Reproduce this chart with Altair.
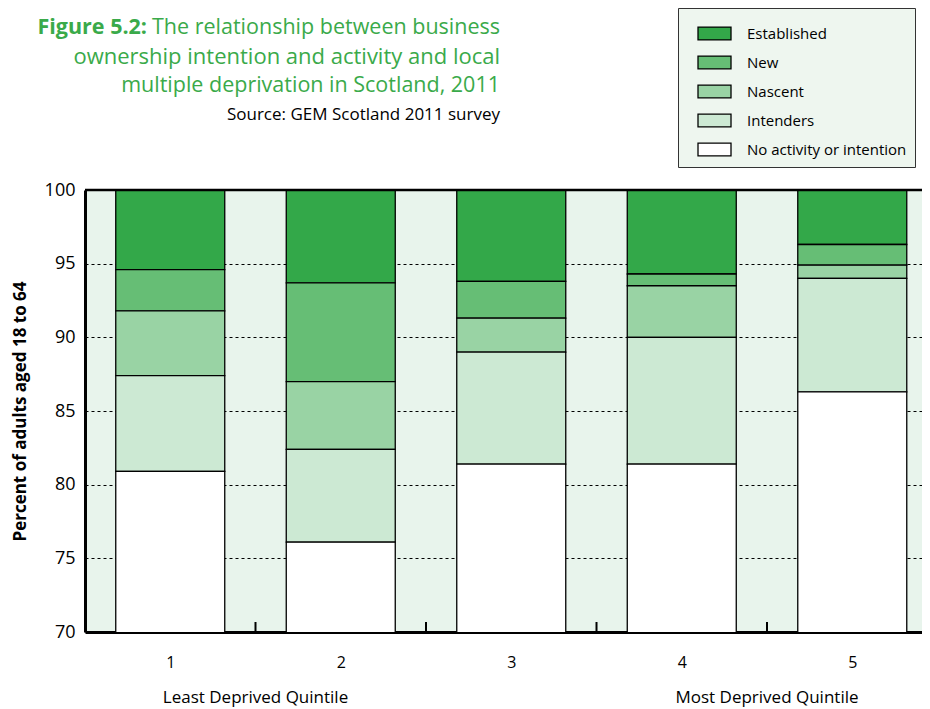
import altair as alt
import pandas as pd

# ---- data ----
quintiles = [1, 2, 3, 4, 5]
categories = ["Established", "New", "Nascent", "Intenders", "No activity or intention"]
established = [5.4, 6.3, 6.2, 5.7, 3.7]
new = [2.8, 6.7, 2.5, 0.8, 1.4]
nascent = [4.4, 4.6, 2.3, 3.5, 0.9]
intenders = [6.5, 6.3, 7.6, 8.6, 7.7]
no_activity = [80.9, 76.1, 81.4, 81.4, 86.3]
colors = ["#33A849", "#66BE75", "#99D3A4", "#CCE9D3", "#FFFFFF"]
y_ticks = [70, 75, 80, 85, 90, 95, 100]
divider_pos = [1.5, 2.5, 3.5, 4.5]
end_labels = ["Least Deprived Quintile", "Most Deprived Quintile"]
end_label_pos = [1.5, 4.5]
title_bold = "Figure 5.2:"
title_lines = ["The relationship between business",
               "ownership intention and activity and local",
               "multiple deprivation in Scotland, 2011"]
source_text = "Source: GEM Scotland 2011 survey"

FONT = "Open Sans"
GREEN = "#3AAA4A"
BG = "#E8F4EC"
W, H = 837, 442

series = [established, new, nascent, intenders, no_activity]
rows = []
for ci, (cat, vals) in enumerate(zip(categories, series)):
    for q, v in zip(quintiles, vals):
        rows.append({"quintile": q, "category": cat, "value": v,
                     "stack_order": len(categories) - 1 - ci})
df = pd.DataFrame(rows)

xscale = alt.Scale(domain=[0.5, 5.409], nice=False, zero=False, padding=0)
yscale = alt.Scale(domain=[70, 100], nice=False, zero=False, padding=0)

bars = alt.Chart(df).mark_bar(size=109, stroke="black", strokeWidth=1.3, clip=True).encode(
    x=alt.X("quintile:Q", scale=xscale,
            axis=alt.Axis(values=quintiles, ticks=False, grid=False, domainWidth=3,
                          domainColor="black", labelFont=FONT, labelFontSize=16,
                          labelColor="black", labelPadding=22, format="d", title=None)),
    y=alt.Y("value:Q", stack="zero", scale=yscale,
            axis=alt.Axis(values=y_ticks, ticks=False, grid=True, gridDash=[3, 3],
                          gridColor="black", gridWidth=1, domainWidth=3, domainColor="black",
                          labelFont=FONT, labelFontSize=18, labelColor="black",
                          labelPadding=10, title="Percent of adults aged 18 to 64",
                          titleFont=FONT, titleFontSize=17, titleFontWeight="bold",
                          titleColor="black", titleX=-65, titleY=221,
                          titleBaseline="middle")),
    color=alt.Color("category:N", scale=alt.Scale(domain=categories, range=colors),
                    legend=alt.Legend(orient="none", legendX=593, legendY=-182, title=None,
                                      fillColor="#EEF6EF", strokeColor="#333333",
                                      padding=8, symbolType="M-0.333,-0.39H1.667V0.39H-0.333Z",
                                      symbolSize=1089, symbolStrokeColor="black",
                                      symbolStrokeWidth=1.3, symbolOpacity=1,
                                      labelFont=FONT, labelFontSize=15, labelColor="black",
                                      labelOffset=26, labelLimit=400, rowPadding=2)),
    order=alt.Order("stack_order:Q", sort="ascending"),
)

top_border = alt.Chart(pd.DataFrame({"a": [0]})).mark_rule(color="black", strokeWidth=2.5).encode(
    x=alt.value(0), x2=alt.value(W), y=alt.value(0))

dividers = alt.Chart(pd.DataFrame({"pos": divider_pos})).mark_rule(
    color="black", strokeWidth=2).encode(
    x=alt.X("pos:Q", scale=xscale), y=alt.value(H), y2=alt.value(H - 10))

ends = alt.Chart(pd.DataFrame({"pos": end_label_pos, "label": end_labels})).mark_text(
    font=FONT, fontSize=17, color="black", baseline="middle").encode(
    x=alt.X("pos:Q", scale=xscale), y=alt.value(508), text="label:N")

def text_layer(txt, x, y, **kw):
    return alt.Chart(pd.DataFrame({"t": [txt]})).mark_text(font=FONT, **kw).encode(
        x=alt.value(x), y=alt.value(y), text="t:N")

titles = [
    text_layer(title_bold, 62, -162, fontSize=21.5, fontWeight="bold", color=GREEN, align="right"),
    text_layer(title_lines[0], 415, -162, fontSize=21.5, color=GREEN, align="right"),
    text_layer(title_lines[1], 415, -133, fontSize=22, color=GREEN, align="right"),
    text_layer(title_lines[2], 415, -104, fontSize=21.5, color=GREEN, align="right"),
    text_layer(source_text, 415, -75, fontSize=17, color="black", align="right"),
]

chart = alt.layer(bars, top_border, dividers, ends, *titles).properties(
    width=W, height=H,
    padding={"left": 77, "top": 182, "right": 0, "bottom": 80},
    autosize=alt.AutoSizeParams(type="none"),
).configure(background="white", view=alt.ViewConfig(fill=BG, stroke=None))

chart.save("out.html", embed_options={"renderer": "svg", "actions": False})
